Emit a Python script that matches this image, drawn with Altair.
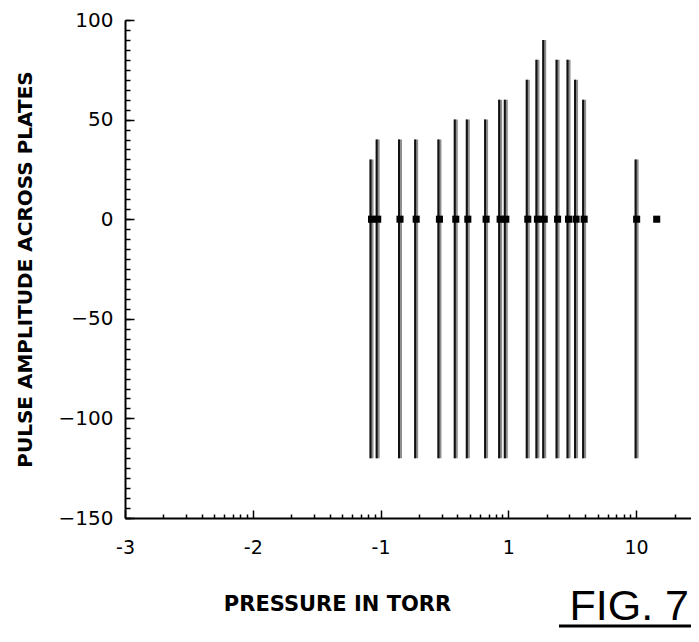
import altair as alt
import pandas as pd

# ---- data ----
pressure = [0.085, 0.095, 0.142, 0.19, 0.289, 0.388, 0.482, 0.67, 0.863, 0.956,
            1.42, 1.69, 1.91, 2.43, 2.96, 3.39, 3.92, 10.1]
pulse_top = [30, 40, 40, 40, 40, 50, 50, 50, 60, 60, 70, 80, 90, 80, 80, 70, 60, 30]
pulse_bottom = [-120, -120, -120, -120, -120, -120, -120, -120, -120, -120,
                -120, -120, -120, -120, -120, -120, -120, -120]
marker_pressure = [0.085, 0.095, 0.142, 0.19, 0.289, 0.388, 0.482, 0.67, 0.863, 0.956,
                   1.42, 1.69, 1.91, 2.43, 2.96, 3.39, 3.92, 10.1, 14.5]
marker_value = [0, 0, 0, 0, 0, 0, 0, 0, 0, 0, 0, 0, 0, 0, 0, 0, 0, 0, 0]

x_tick_values = [0.001, 0.01, 0.1, 1, 10]
x_tick_labels = ["-3", "-2", "-1", "1", "10"]
x_minor_mult = [2, 3, 4, 5, 6, 7, 8, 9]
y_tick_values = [-150, -100, -50, 0, 50, 100]
y_minor_step = 5

X_DOMAIN = [0.001, 26.9]
Y_DOMAIN = [-150, 100]
W, H = 566, 498

x_minor = [m * d for d in x_tick_values for m in x_minor_mult if m * d <= X_DOMAIN[1]]
y_minor = list(range(Y_DOMAIN[0], Y_DOMAIN[1] + 1, y_minor_step))

bars = pd.DataFrame({"pressure": pressure, "top": pulse_top, "bottom": pulse_bottom})
marks = pd.DataFrame({"pressure": marker_pressure, "value": marker_value})

label_expr = " : ".join(
    [f"abs(datum.value - {v}) < {v}*0.01 ? '{l}'" for v, l in zip(x_tick_values, x_tick_labels)]
) + " : ''"

xscale = alt.Scale(type="log", domain=X_DOMAIN, nice=False)
yscale = alt.Scale(domain=Y_DOMAIN, nice=False, zero=False)

FONT = "DejaVu Sans"

# layer 1: grey halo lines, label axes
x_label_axis = alt.Axis(
    orient="bottom", values=x_tick_values, labelExpr=label_expr, ticks=False, tickSize=0,
    grid=False, domain=True, domainColor="black", domainWidth=2,
    labelFont=FONT, labelFontSize=19, labelColor="black", labelPadding=29,
    labelBaseline="middle", labelAlign="center", labelFlush=False, labelOverlap=False,
    title="PRESSURE IN TORR", titleFont=FONT, titleFontSize=21, titleFontWeight="bold",
    titleColor="black", titleX=212, titleY=86, titleAlign="center", titleBaseline="middle",
)
y_label_axis = alt.Axis(
    orient="left", values=y_tick_values, ticks=False, tickSize=0, grid=False,
    domain=True, domainColor="black", domainWidth=2,
    labelFont=FONT, labelFontSize=20, labelColor="black", labelPadding=12,
    labelFlush=False, labelOverlap=False,
    title="PULSE AMPLITUDE ACROSS PLATES", titleFont=FONT, titleFontSize=20,
    titleFontWeight="bold", titleColor="black", titleX=-100, titleY=H / 2,
    titleAngle=270, titleAlign="center", titleBaseline="middle",
)

grey = alt.Chart(bars).mark_rule(color="#8f8f8f", strokeWidth=4).encode(
    x=alt.X("pressure:Q", scale=xscale, axis=x_label_axis),
    y=alt.Y("bottom:Q", scale=yscale, axis=y_label_axis),
    y2="top:Q",
)

# layer 2: black core lines, major inward ticks
x_major_ticks = alt.Axis(orient="top", offset=-H, values=x_tick_values, labels=False,
                         domain=False, grid=False, ticks=True, tickSize=8,
                         tickColor="black", tickWidth=1.5, title=None)
y_major_ticks = alt.Axis(orient="right", offset=-W, values=y_tick_values, labels=False,
                         domain=False, grid=False, ticks=True, tickSize=9,
                         tickColor="black", tickWidth=1.5, title=None)
black = alt.Chart(bars).mark_rule(color="#111111", strokeWidth=2, xOffset=-1).encode(
    x=alt.X("pressure:Q", scale=xscale, axis=x_major_ticks),
    y=alt.Y("bottom:Q", scale=yscale, axis=y_major_ticks),
    y2="top:Q",
)

# layer 3: markers at zero, minor inward ticks
x_minor_ticks = alt.Axis(orient="top", offset=-H, values=x_minor, labels=False,
                         domain=False, grid=False, ticks=True, tickSize=4,
                         tickColor="black", tickWidth=1.5, title=None)
y_minor_ticks = alt.Axis(orient="right", offset=-W, values=y_minor, labels=False,
                         domain=False, grid=False, ticks=True, tickSize=5,
                         tickColor="black", tickWidth=1.5, title=None)
dots = alt.Chart(marks).mark_square(color="black", size=50, opacity=1).encode(
    x=alt.X("pressure:Q", scale=xscale, axis=x_minor_ticks),
    y=alt.Y("value:Q", scale=yscale, axis=y_minor_ticks),
)

# figure label
fig_label = alt.Chart(pd.DataFrame({"t": ["FIG. 7"]})).mark_text(
    font="Liberation Sans", fontSize=43, align="right", baseline="alphabetic", color="black"
).encode(text="t:N", x=alt.value(564), y=alt.value(600))
fig_under = alt.Chart(pd.DataFrame({"t": ["u"]})).mark_rule(
    color="black", strokeWidth=3
).encode(x=alt.value(434), x2=alt.value(566), y=alt.value(606))

chart = alt.layer(grey, black, dots, fig_label, fig_under).resolve_axis(
    x="independent", y="independent"
).properties(
    width=W, height=H,
    autosize=alt.AutoSizeParams(type="none"),
    padding={"left": 117, "top": 12, "right": 0, "bottom": 114},
    background="white",
).configure_view(stroke=None)

chart.save("out.html", embed_options={"renderer": "svg", "actions": False})
